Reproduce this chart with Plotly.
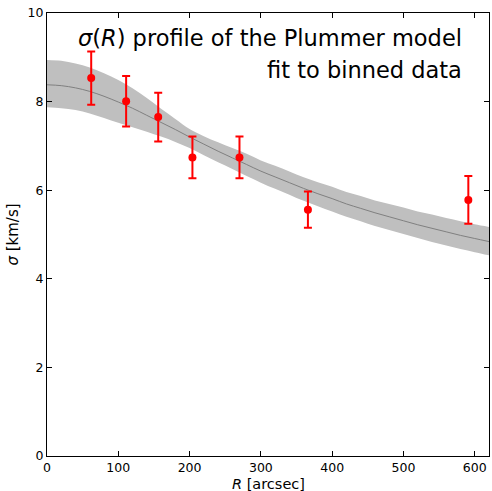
import plotly.graph_objects as go

# Binned data
R_bins = [62, 111, 156, 204, 270, 366, 591]
sigma_bins = [8.53, 8.01, 7.65, 6.74, 6.74, 5.56, 5.78]
sigma_err = [0.60, 0.57, 0.55, 0.47, 0.47, 0.41, 0.54]

R_model = [0, 20, 40, 60, 80, 100, 120, 140, 160, 180, 200, 220, 240, 260, 280, 300,
           320, 340, 360, 380, 400, 420, 440, 460, 480, 500, 520, 540, 560, 580, 600, 620]
sigma_model = [8.38, 8.36, 8.31, 8.23, 8.12, 7.99, 7.85, 7.69, 7.53, 7.37, 7.20, 7.04,
               6.88, 6.73, 6.58, 6.43, 6.30, 6.17, 6.04, 5.92, 5.81, 5.69, 5.59, 5.49,
               5.40, 5.31, 5.22, 5.14, 5.06, 4.98, 4.91, 4.84]
sigma_upper = [8.94, 8.92, 8.86, 8.77, 8.64, 8.49, 8.30, 8.08, 7.84, 7.61, 7.38, 7.22,
               7.08, 6.95, 6.82, 6.67, 6.55, 6.42, 6.29, 6.18, 6.08, 5.96, 5.87, 5.77,
               5.69, 5.61, 5.52, 5.45, 5.37, 5.30, 5.23, 5.17]
sigma_lower = [7.87, 7.85, 7.81, 7.73, 7.63, 7.52, 7.42, 7.32, 7.21, 7.09, 6.95, 6.79,
               6.63, 6.48, 6.32, 6.17, 6.03, 5.90, 5.76, 5.64, 5.52, 5.40, 5.30, 5.19,
               5.10, 5.01, 4.92, 4.83, 4.75, 4.67, 4.60, 4.53]

x_ticks = [0, 100, 200, 300, 400, 500, 600]
y_ticks = [0, 2, 4, 6, 8, 10]

FONT = "DejaVu Sans"

fig = go.Figure()

# confidence band
fig.add_trace(go.Scatter(x=R_model, y=sigma_upper, mode="lines", line=dict(width=0, shape="spline"),
                         hoverinfo="skip", showlegend=False))
fig.add_trace(go.Scatter(x=R_model, y=sigma_lower, mode="lines", line=dict(width=0, shape="spline"),
                         fill="tonexty", fillcolor="rgb(191,191,191)", hoverinfo="skip",
                         showlegend=False))
# model curve
fig.add_trace(go.Scatter(x=R_model, y=sigma_model, mode="lines",
                         line=dict(color="rgb(128,128,128)", width=1, shape="spline"),
                         showlegend=False))
# data
fig.add_trace(go.Scatter(x=R_bins, y=sigma_bins, mode="markers",
                         marker=dict(color="red", size=8),
                         error_y=dict(type="data", array=sigma_err, color="red",
                                      thickness=2, width=4),
                         showlegend=False))

axis_common = dict(showline=True, linecolor="black", linewidth=1, mirror="ticks",
                   ticks="inside", ticklen=5, tickwidth=1, tickcolor="black",
                   showgrid=False, zeroline=False, automargin=False,
                   tickfont=dict(family=FONT, size=12.5, color="black"))

fig.update_xaxes(range=[0, 620], tickvals=x_ticks, **axis_common)
fig.update_yaxes(range=[0, 10], tickvals=y_ticks,
                 title=dict(text="<i>σ</i> [km/s]", font=dict(family=FONT, size=15, color="black"),
                            standoff=5),
                 **axis_common)

# x-axis title
fig.add_annotation(xref="paper", yref="paper", x=0.5, y=-0.063, xanchor="center", yanchor="middle",
                   text="<i>R</i> [arcsec]", showarrow=False,
                   font=dict(family=FONT, size=14.5, color="black"))

fig.add_annotation(xref="paper", yref="paper", x=0.943, y=0.978, xanchor="right", yanchor="top",
                   text="<i>σ</i>(<i>R</i>) profile of the Plummer model", showarrow=False,
                   font=dict(family=FONT, size=22.5, color="black"))
fig.add_annotation(xref="paper", yref="paper", x=0.943, y=0.905, xanchor="right", yanchor="top",
                   text="fit to binned data", showarrow=False,
                   font=dict(family=FONT, size=22.5, color="black"))

fig.update_layout(width=492, height=491, margin=dict(l=47, r=3, t=13, b=35),
                  plot_bgcolor="white", paper_bgcolor="white",
                  font=dict(family=FONT, color="black"))

fig.write_html("out.html")
